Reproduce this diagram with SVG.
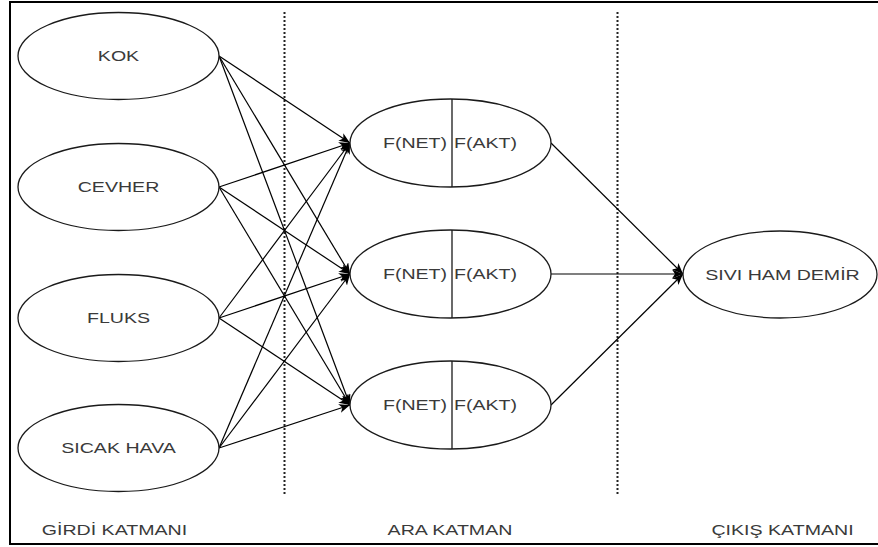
<svg xmlns="http://www.w3.org/2000/svg" width="878" height="547" viewBox="0 0 878 547">
  <defs>
    <marker id="arrow" markerUnits="userSpaceOnUse" markerWidth="12" markerHeight="10" refX="11" refY="4.5" orient="auto">
      <path d="M0,0 L11,4.5 L0,9 L3,4.5 Z" fill="#000"/>
    </marker>
    <style>
      .node { fill: #fff; stroke: #1a1a1a; stroke-width: 1.3; }
      .div { stroke: #1a1a1a; stroke-width: 1.3; }
      .lbl { font-family: "Liberation Sans", Arial, sans-serif; font-size: 14px; fill: #3a3a3a; text-anchor: middle; }
      .edge { stroke: #000; stroke-width: 1.2; fill: none; marker-end: url(#arrow); }
      .sep { stroke: #222; stroke-width: 2; stroke-dasharray: 2 2; }
    </style>
  </defs>

  <rect width="878" height="547" fill="#fff"/>
  <!-- frame (right side runs past the canvas) -->
  <rect x="10" y="2" width="880" height="542" fill="none" stroke="#000" stroke-width="2"/>

  <!-- layer separators -->
  <line class="sep" x1="284.5" y1="12" x2="284.5" y2="494"/>
  <line class="sep" x1="617.5" y1="12" x2="617.5" y2="494"/>

  <g id="connectors">
    <!-- inputs to hidden layer -->
    <line class="edge" x1="219" y1="56" x2="350" y2="143"/>
    <line class="edge" x1="219" y1="56" x2="350" y2="274"/>
    <line class="edge" x1="219" y1="56" x2="350" y2="405"/>
    <line class="edge" x1="219" y1="187" x2="350" y2="143"/>
    <line class="edge" x1="219" y1="187" x2="350" y2="274"/>
    <line class="edge" x1="219" y1="187" x2="350" y2="405"/>
    <line class="edge" x1="219" y1="318" x2="350" y2="143"/>
    <line class="edge" x1="219" y1="318" x2="350" y2="274"/>
    <line class="edge" x1="219" y1="318" x2="350" y2="405"/>
    <line class="edge" x1="219" y1="448" x2="350" y2="143"/>
    <line class="edge" x1="219" y1="448" x2="350" y2="274"/>
    <line class="edge" x1="219" y1="448" x2="350" y2="405"/>
    <!-- hidden layer to output -->
    <line class="edge" x1="551" y1="143" x2="683" y2="274"/>
    <line class="edge" x1="551" y1="274" x2="683" y2="274"/>
    <line class="edge" x1="551" y1="405" x2="683" y2="274"/>
  </g>

  <!-- input layer -->
  <g id="kok">
    <ellipse class="node" cx="118.5" cy="56" rx="100.5" ry="43.5"/>
    <text class="lbl" transform="translate(118.5,61) scale(1.4,1)">KOK</text>
  </g>
  <g id="cevher">
    <ellipse class="node" cx="118.5" cy="187" rx="100.5" ry="43.5"/>
    <text class="lbl" transform="translate(118.5,192) scale(1.4,1)">CEVHER</text>
  </g>
  <g id="fluks">
    <ellipse class="node" cx="118.5" cy="318" rx="100.5" ry="43.5"/>
    <text class="lbl" transform="translate(118.5,323) scale(1.4,1)">FLUKS</text>
  </g>
  <g id="sicak-hava">
    <ellipse class="node" cx="118.5" cy="448" rx="100.5" ry="43.5"/>
    <text class="lbl" transform="translate(118.5,453) scale(1.4,1)">SICAK HAVA</text>
  </g>

  <!-- hidden layer -->
  <g id="hidden-1">
    <ellipse class="node" cx="450.5" cy="143" rx="100.5" ry="44"/>
    <line class="div" x1="452" y1="99" x2="452" y2="187"/>
    <text class="lbl" transform="translate(415,148) scale(1.4,1)">F(NET)</text>
    <text class="lbl" transform="translate(485.5,148) scale(1.4,1)">F(AKT)</text>
  </g>
  <g id="hidden-2">
    <ellipse class="node" cx="450.5" cy="274" rx="100.5" ry="44"/>
    <line class="div" x1="452" y1="230" x2="452" y2="318"/>
    <text class="lbl" transform="translate(415,279) scale(1.4,1)">F(NET)</text>
    <text class="lbl" transform="translate(485.5,279) scale(1.4,1)">F(AKT)</text>
  </g>
  <g id="hidden-3">
    <ellipse class="node" cx="450.5" cy="405" rx="100.5" ry="44"/>
    <line class="div" x1="452" y1="361" x2="452" y2="449"/>
    <text class="lbl" transform="translate(415,410) scale(1.4,1)">F(NET)</text>
    <text class="lbl" transform="translate(485.5,410) scale(1.4,1)">F(AKT)</text>
  </g>

  <!-- output layer -->
  <g id="sivi-ham-demir">
    <ellipse class="node" cx="780" cy="274.5" rx="97" ry="43.5"/>
    <text class="lbl" transform="translate(782.5,280) scale(1.4,1)">SIVI HAM DEMİR</text>
  </g>

  <!-- layer titles -->
  <g id="layer-titles">
    <text class="lbl" transform="translate(114.5,535) scale(1.4,1)">GİRDİ KATMANI</text>
    <text class="lbl" transform="translate(450,535) scale(1.4,1)">ARA KATMAN</text>
    <text class="lbl" transform="translate(782.5,535) scale(1.4,1)">ÇIKIŞ KATMANI</text>
  </g>
</svg>
